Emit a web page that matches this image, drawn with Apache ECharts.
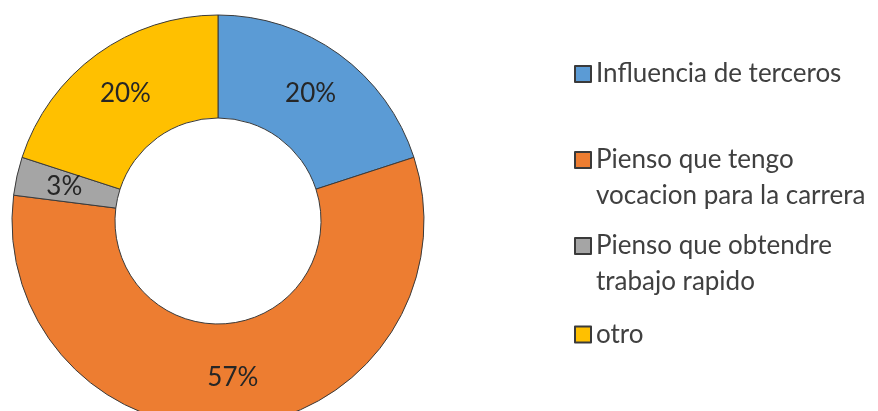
<!DOCTYPE html>
<html>
<head>
<meta charset="utf-8">
<script src="https://cdn.jsdelivr.net/npm/echarts@6/dist/echarts.min.js"></script>
<style>
html,body{margin:0;padding:0;background:#fff;}
#chart{width:878px;height:411px;}
</style>
</head>
<body>
<div id="chart"></div>
<script>
var categories = ["Influencia de terceros", "Pienso que tengo vocacion para la carrera", "Pienso que obtendre trabajo rapido", "otro"];
var legendLines = [["Influencia de terceros"], ["Pienso que tengo", "vocacion para la carrera"], ["Pienso que obtendre", "trabajo rapido"], ["otro"]];
var values = [20, 57, 3, 20];
var colors = ["#5B9BD5", "#ED7D31", "#A5A5A5", "#FFC000"];

var FONT = "Lato";
var LH = 36;
var legendTops = [56, 106, 192, 316.5];

var legends = categories.map(function (name, i) {
  var multi = legendLines[i].length > 1;
  return {
    orient: 'vertical',
    left: 574,
    top: legendTops[i],
    padding: 0,
    itemWidth: 16,
    itemHeight: 16,
    icon: 'rect',
    selectedMode: false,
    data: [name],
    formatter: function () { return (multi ? ' \n' : '') + legendLines[i].join('\n'); },
    textStyle: {
      fontFamily: FONT,
      fontSize: 26,
      color: '#404040',
      lineHeight: LH
    }
  };
});

var chart = echarts.init(document.getElementById('chart'));
chart.setOption({
  animation: false,
  color: colors,
  legend: legends,
  series: [{
    type: 'pie',
    center: [218, 221],
    radius: [103, 206],
    startAngle: 90,
    clockwise: true,
    avoidLabelOverlap: false,
    itemStyle: { borderColor: '#3a3a3a', borderWidth: 1 },
    label: {
      show: true,
      position: 'inside',
      formatter: '{d}%',
      fontFamily: FONT,
      fontSize: 26,
      color: '#262626'
    },
    labelLine: { show: false },
    emphasis: { disabled: true },
    data: categories.map(function (n, i) { return { name: n, value: values[i] }; })
  }]
});
</script>
</body>
</html>
